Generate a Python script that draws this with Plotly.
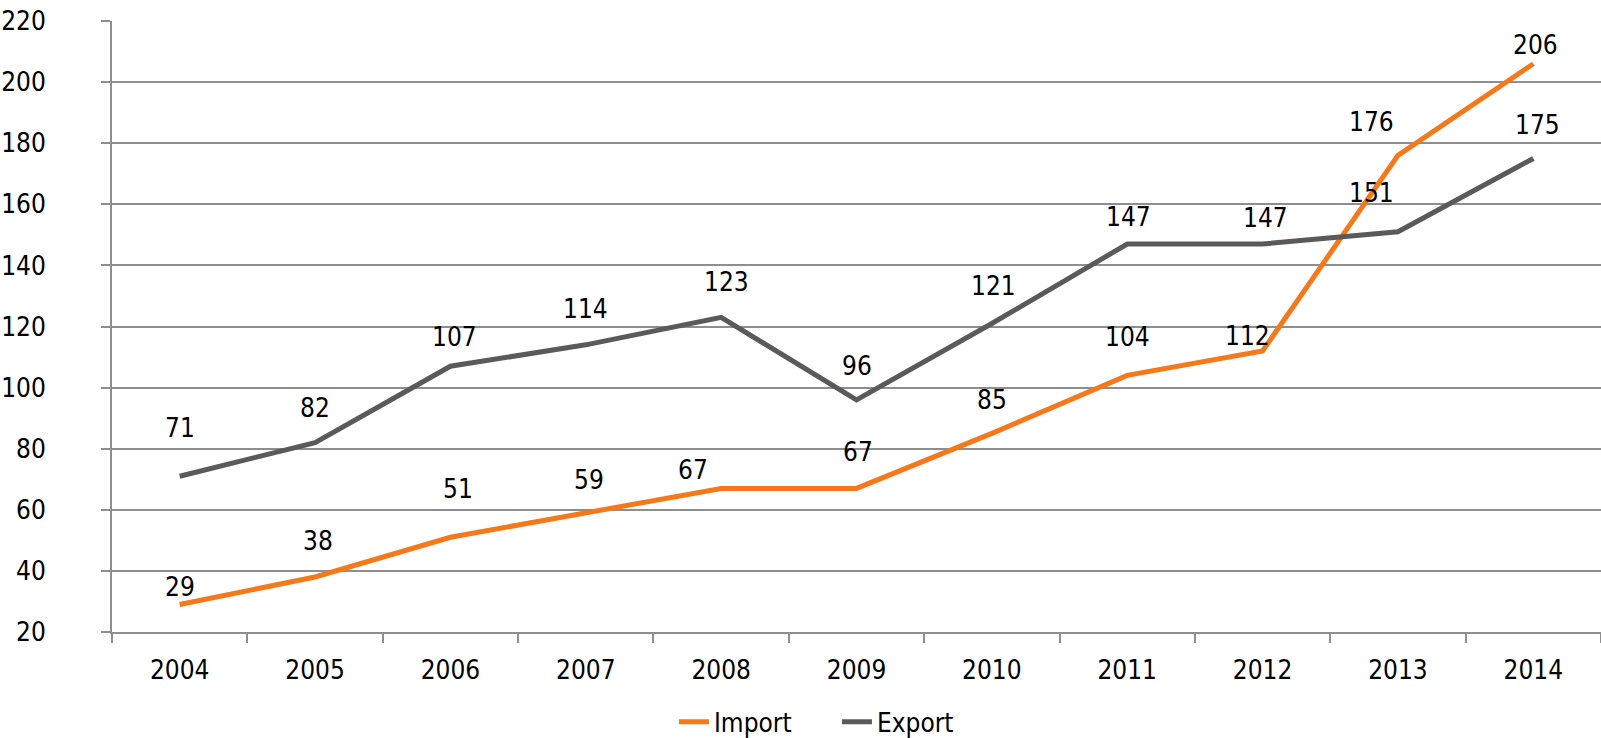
import plotly.graph_objects as go

years = ["2004", "2005", "2006", "2007", "2008", "2009", "2010", "2011", "2012", "2013", "2014"]
import_vals = [29, 38, 51, 59, 67, 67, 85, 104, 112, 176, 206]
export_vals = [71, 82, 107, 114, 123, 96, 121, 147, 147, 151, 175]
y_ticks = [20, 40, 60, 80, 100, 120, 140, 160, 180, 200, 220]

# label placement (pixel offsets from point to label centre)
import_dy = [18, 36, 48, 33, 18, 36, 33, 38, 15, 33, 19]
import_dx = [0, 3, 8, 3, -28, 1, 0, 0, -15, -26, 2]
export_dy = [48, 35, 29, 36, 35, 34, 37, 27, 26, 39, 33]
export_dx = [0, 0, 4, 0, 5, 0, 2, 1, 3, -26, 4]

ORANGE = "#F5781A"
GRAY = "#5A5A5A"
GRID = "#8E8E8E"
FONT = "DejaVu Sans Condensed, DejaVu Sans, sans-serif"
FS = 26

fig = go.Figure()
fig.add_trace(go.Scatter(x=years, y=import_vals, mode="lines", name="Import",
                         line=dict(color=ORANGE, width=5)))
fig.add_trace(go.Scatter(x=years, y=export_vals, mode="lines", name="Export",
                         line=dict(color=GRAY, width=5)))

annotations = []
for i, (v, dx, dy) in enumerate(zip(import_vals, import_dx, import_dy)):
    annotations.append(dict(x=i, y=v, xref="x", yref="y", text=str(v), showarrow=False,
                            xshift=dx, yshift=dy, font=dict(size=FS, color="black", family=FONT)))
for i, (v, dx, dy) in enumerate(zip(export_vals, export_dx, export_dy)):
    annotations.append(dict(x=i, y=v, xref="x", yref="y", text=str(v), showarrow=False,
                            xshift=dx, yshift=dy, font=dict(size=FS, color="black", family=FONT)))

fig.update_layout(
    width=1601, height=738,
    margin=dict(l=112, r=0, t=21, b=106, autoexpand=False),
    paper_bgcolor="white", plot_bgcolor="white",
    font=dict(family=FONT, size=FS, color="black"),
    showlegend=True,
    legend=dict(orientation="h", x=0.3774, xanchor="left", y=-0.147, yanchor="middle",
                font=dict(size=FS, color="black", family=FONT),
                entrywidth=118, entrywidthmode="pixels",
                traceorder="normal"),
    annotations=annotations,
)
fig.update_xaxes(type="category", range=[-0.5, 10.5], tickson="boundaries",
                 ticks="outside", ticklen=9, tickcolor=GRID, tickwidth=2,
                 showline=True, linecolor=GRID, linewidth=2, automargin=False,
                 showgrid=False, ticklabelstandoff=14,
                 tickfont=dict(size=FS, color="black", family=FONT))
fig.update_yaxes(range=[20, 220], tickvals=y_ticks, ticks="outside", ticklen=9,
                 tickcolor=GRID, tickwidth=2, showline=True, linecolor=GRID, linewidth=2,
                 showgrid=True, gridcolor=GRID, gridwidth=2, zeroline=False,
                 ticklabelstandoff=50, automargin=False,
                 tickfont=dict(size=FS, color="black", family=FONT))

fig.write_html("out.html", config={"displayModeBar": False},
               post_script="document.body.style.margin='0';document.body.style.overflow='hidden';")
